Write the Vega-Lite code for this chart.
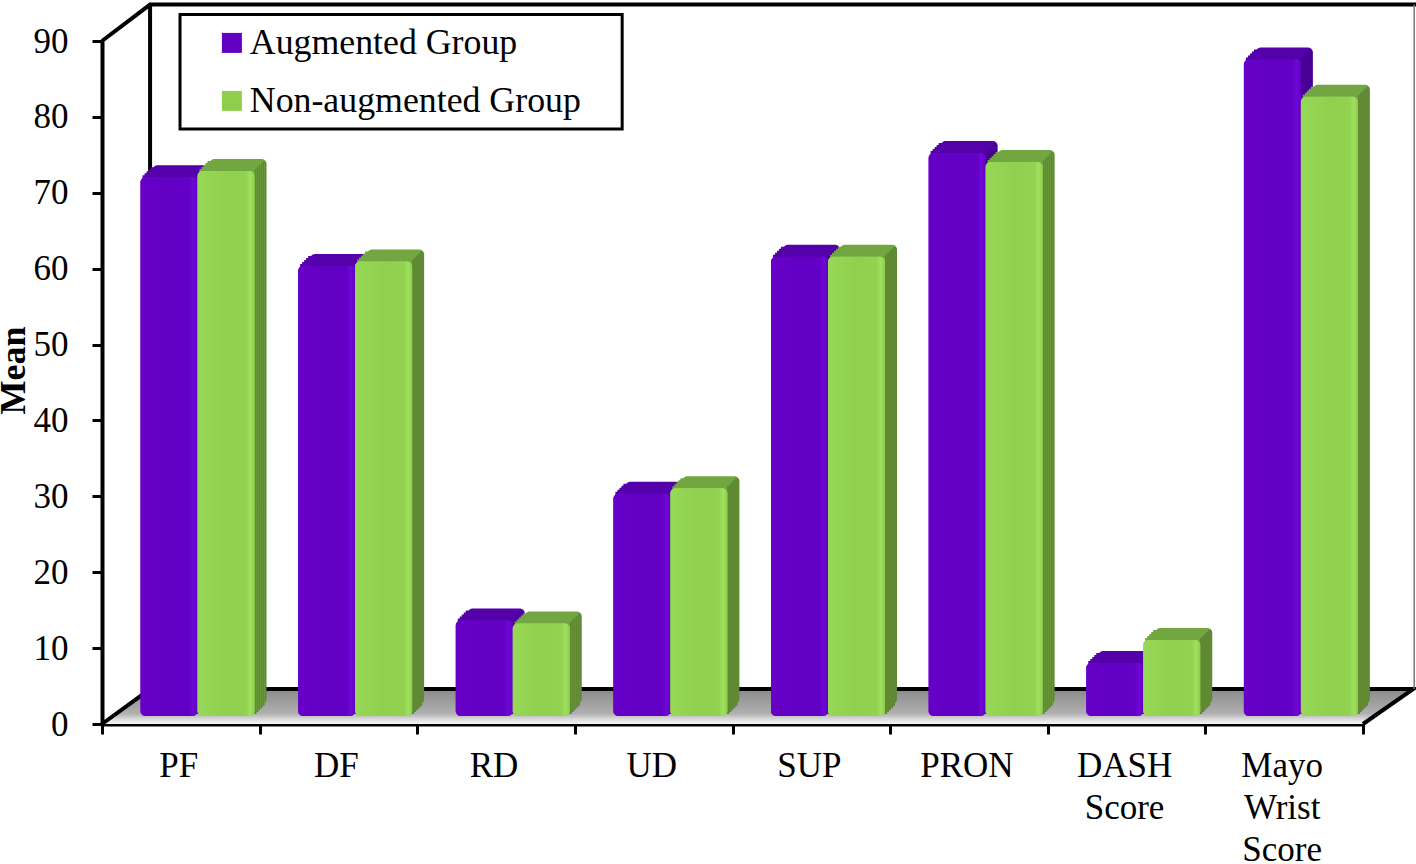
{
"$schema":"https://vega.github.io/schema/vega-lite/v6.json",
"autosize":"none","width":1261,"height":683,
"padding":{"left":102,"top":41,"right":53,"bottom":140},
"background":"white",
"config":{"view":{"stroke":null},"font":"Liberation Serif",
 "axisY":{"titleFontSize":36,"titleFontWeight":"bold","titleColor":"black","titleFont":"Liberation Serif","titleX":-70,"titleY":329,"labelFontSize":35,"labelColor":"black","labelFont":"Liberation Serif","labelPadding":24,"tickSize":10,"tickWidth":3,"tickColor":"black","domainWidth":4,"domainColor":"black","grid":false}},
"datasets":{
"bars":[
{"measure":"PF","group":"Augmented Group","mean":71},{"measure":"PF","group":"Non-augmented Group","mean":71.8},
{"measure":"DF","group":"Augmented Group","mean":59.3},{"measure":"DF","group":"Non-augmented Group","mean":59.9},
{"measure":"RD","group":"Augmented Group","mean":12.6},{"measure":"RD","group":"Non-augmented Group","mean":12.2},
{"measure":"UD","group":"Augmented Group","mean":29.3},{"measure":"UD","group":"Non-augmented Group","mean":30},
{"measure":"SUP","group":"Augmented Group","mean":60.5},{"measure":"SUP","group":"Non-augmented Group","mean":60.5},
{"measure":"PRON","group":"Augmented Group","mean":74.2},{"measure":"PRON","group":"Non-augmented Group","mean":73},
{"measure":"DASH Score","group":"Augmented Group","mean":7},{"measure":"DASH Score","group":"Non-augmented Group","mean":10},
{"measure":"Mayo Wrist Score","group":"Augmented Group","mean":86.5},{"measure":"Mayo Wrist Score","group":"Non-augmented Group","mean":81.6}
],
"floor":[{"u":0,"v":0,"v2":0},{"u":0.305,"v":4.6,"v2":0},{"u":8,"v":4.6,"v2":0},{"u":8.317,"v":4.6,"v2":4.6}],
"frame":[
{"part":"a","n":1,"u":0,"v":0},{"part":"a","n":2,"u":0.305,"v":4.6},{"part":"a","n":3,"u":8.317,"v":4.6},{"part":"a","n":4,"u":8,"v":0},
{"part":"b","n":1,"u":0,"v":90},{"part":"b","n":2,"u":0.305,"v":94.8},{"part":"b","n":3,"u":8.34,"v":94.8},
{"part":"c","n":1,"u":0.305,"v":94.8},{"part":"c","n":2,"u":0.305,"v":4.6}
],
"edge":[{"n":1,"u":8.325,"v":94.8},{"n":2,"u":8.325,"v":4.6}],
"box":[{"u":0.495,"u2":3.3,"v":93.5,"v2":78.4}]
},
"resolve":{"scale":{"x":"independent"}},
"layer":[
{"data":{"name":"floor"},
 "mark":{"type":"area","fill":{"gradient":"linear","x1":0,"y1":0,"x2":0,"y2":1,"stops":[{"offset":0,"color":"#8a8a8a"},{"offset":0.7,"color":"#b0b0b0"},{"offset":0.85,"color":"#d8d8d8"},{"offset":1,"color":"#f8f8f8"}]}},
 "encoding":{"x":{"field":"u","type":"quantitative","scale":{"domain":[0,8],"nice":false,"zero":false},"axis":null},
  "y":{"field":"v","type":"quantitative","stack":null,"scale":{"domain":[0,90],"nice":false},"axis":{"values":[0,10,20,30,40,50,60,70,80,90],"title":"Mean"}},
  "y2":{"field":"v2"}}},
{"data":{"name":"frame"},
 "mark":{"type":"line","stroke":"black","strokeWidth":4},
 "encoding":{"x":{"field":"u","type":"quantitative","scale":{"domain":[0,8],"nice":false,"zero":false},"axis":null},
  "y":{"field":"v","type":"quantitative","stack":null,"axis":{"values":[0,10,20,30,40,50,60,70,80,90],"title":"Mean"}},"detail":{"field":"part"},"order":{"field":"n"}}},
{"data":{"name":"edge"},
 "mark":{"type":"line","stroke":"#777777","strokeWidth":1.5},
 "encoding":{"x":{"field":"u","type":"quantitative","scale":{"domain":[0,8],"nice":false,"zero":false},"axis":null},
  "y":{"field":"v","type":"quantitative","stack":null,"axis":{"values":[0,10,20,30,40,50,60,70,80,90],"title":"Mean"}},"order":{"field":"n"}}},
{"data":{"name":"box"},
 "mark":{"type":"rect","fill":"white","stroke":"black","strokeWidth":3},
 "encoding":{"x":{"field":"u","type":"quantitative","scale":{"domain":[0,8],"nice":false,"zero":false},"axis":null},"x2":{"field":"u2"},
  "y":{"field":"v","type":"quantitative","axis":{"values":[0,10,20,30,40,50,60,70,80,90],"title":"Mean"}},"y2":{"field":"v2"}}},
{"data":{"name":"bars"},
 "encoding":{
  "x":{"field":"measure","type":"nominal","sort":["PF","DF","RD","UD","SUP","PRON","DASH Score","Mayo Wrist Score"],
   "scale":{"paddingInner":0,"paddingOuter":0},
   "axis":{"title":null,"labelAngle":0,"labelExpr":"split(datum.label,' ')","labelFontSize":35,"labelColor":"black","labelFont":"Liberation Serif","labelLineHeight":42,"labelPadding":14,"labelOffset":-2.5,"labelLimit":300,"tickSize":10,"tickWidth":3,"tickColor":"black","tickBand":"extent","domainWidth":4,"domainColor":"black"}},
  "y":{"field":"mean","type":"quantitative","stack":null,"axis":{"values":[0,10,20,30,40,50,60,70,80,90],"title":"Mean"}},
  "y2":{"datum":0}
 },
 "layer":[
 {"transform":[{"filter":"datum.group=='Augmented Group'"}],"mark":{"type":"bar","width":57,"xOffset":0.2,"yOffset":-20,"y2Offset":-20,"cornerRadius":5,"fill":{"gradient":"linear","x1":0,"y1":0,"x2":1,"y2":0,"stops":[{"offset":0,"color":"#5400ab"},{"offset":0.965,"color":"#5400ab"},{"offset":0.965,"color":"#480094"},{"offset":1,"color":"#480094"}]}}},
 {"transform":[{"filter":"datum.group=='Augmented Group'"}],"mark":{"type":"bar","width":57,"xOffset":-1.8,"yOffset":-18,"y2Offset":-18,"fill":{"gradient":"linear","x1":0,"y1":0,"x2":1,"y2":0,"stops":[{"offset":0,"color":"#5400ab"},{"offset":0.965,"color":"#5400ab"},{"offset":0.965,"color":"#480094"},{"offset":1,"color":"#480094"}]}}},
 {"transform":[{"filter":"datum.group=='Augmented Group'"}],"mark":{"type":"bar","width":57,"xOffset":-3.8,"yOffset":-16,"y2Offset":-16,"fill":{"gradient":"linear","x1":0,"y1":0,"x2":1,"y2":0,"stops":[{"offset":0,"color":"#5400ab"},{"offset":0.965,"color":"#5400ab"},{"offset":0.965,"color":"#480094"},{"offset":1,"color":"#480094"}]}}},
 {"transform":[{"filter":"datum.group=='Augmented Group'"}],"mark":{"type":"bar","width":57,"xOffset":-5.8,"yOffset":-14,"y2Offset":-14,"fill":{"gradient":"linear","x1":0,"y1":0,"x2":1,"y2":0,"stops":[{"offset":0,"color":"#5400ab"},{"offset":0.965,"color":"#5400ab"},{"offset":0.965,"color":"#480094"},{"offset":1,"color":"#480094"}]}}},
 {"transform":[{"filter":"datum.group=='Augmented Group'"}],"mark":{"type":"bar","width":57,"xOffset":-7.8,"yOffset":-12,"y2Offset":-12,"fill":{"gradient":"linear","x1":0,"y1":0,"x2":1,"y2":0,"stops":[{"offset":0,"color":"#5400ab"},{"offset":0.965,"color":"#5400ab"},{"offset":0.965,"color":"#480094"},{"offset":1,"color":"#480094"}]}}},
 {"transform":[{"filter":"datum.group=='Augmented Group'"}],"mark":{"type":"bar","width":57,"xOffset":-9.8,"yOffset":-10,"y2Offset":-10,"fill":{"gradient":"linear","x1":0,"y1":0,"x2":1,"y2":0,"stops":[{"offset":0,"color":"#5400ab"},{"offset":0.965,"color":"#5400ab"},{"offset":0.965,"color":"#480094"},{"offset":1,"color":"#480094"}]}}},
 {"transform":[{"filter":"datum.group=='Augmented Group'"}],"mark":{"type":"bar","width":57,"xOffset":-11.8,"yOffset":-8,"y2Offset":-8,"cornerRadius":5},
  "encoding":{"fill":{"field":"group","type":"nominal","scale":{"domain":["Augmented Group","Non-augmented Group"],"range":["#6200c4","#8fcf4d"]},
  "legend":{"title":null,"orient":"none","legendX":112,"legendY":-16,"padding":0,"labelFontSize":35.8,"labelColor":"black","labelFont":"Liberation Serif","symbolType":"square","symbolSize":400,"symbolStrokeWidth":0,"labelOffset":0,"rowPadding":21,"labelLimit":400}}}},
 {"transform":[{"filter":"datum.group=='Augmented Group'"}],"mark":{"type":"bar","width":57,"xOffset":-11.8,"yOffset":-8,"y2Offset":-8,"cornerRadius":5,"fill":{"gradient":"linear","x1":0,"y1":0,"x2":1,"y2":0,"stops":[{"offset":0,"color":"#6800c8"},{"offset":0.5,"color":"#6200c4"},{"offset":0.85,"color":"#6400c6"},{"offset":0.93,"color":"#6e08d8"},{"offset":1,"color":"#6400c0"}]}}},
 {"transform":[{"filter":"datum.group=='Non-augmented Group'"}],"mark":{"type":"bar","width":57,"xOffset":57.2,"yOffset":-20,"y2Offset":-20,"cornerRadius":5,"fill":{"gradient":"linear","x1":0,"y1":0,"x2":1,"y2":0,"stops":[{"offset":0,"color":"#72a640"},{"offset":0.965,"color":"#72a640"},{"offset":0.965,"color":"#5f8a33"},{"offset":1,"color":"#5f8a33"}]}}},
 {"transform":[{"filter":"datum.group=='Non-augmented Group'"}],"mark":{"type":"bar","width":57,"xOffset":55.2,"yOffset":-18,"y2Offset":-18,"fill":{"gradient":"linear","x1":0,"y1":0,"x2":1,"y2":0,"stops":[{"offset":0,"color":"#72a640"},{"offset":0.965,"color":"#72a640"},{"offset":0.965,"color":"#5f8a33"},{"offset":1,"color":"#5f8a33"}]}}},
 {"transform":[{"filter":"datum.group=='Non-augmented Group'"}],"mark":{"type":"bar","width":57,"xOffset":53.2,"yOffset":-16,"y2Offset":-16,"fill":{"gradient":"linear","x1":0,"y1":0,"x2":1,"y2":0,"stops":[{"offset":0,"color":"#72a640"},{"offset":0.965,"color":"#72a640"},{"offset":0.965,"color":"#5f8a33"},{"offset":1,"color":"#5f8a33"}]}}},
 {"transform":[{"filter":"datum.group=='Non-augmented Group'"}],"mark":{"type":"bar","width":57,"xOffset":51.2,"yOffset":-14,"y2Offset":-14,"fill":{"gradient":"linear","x1":0,"y1":0,"x2":1,"y2":0,"stops":[{"offset":0,"color":"#72a640"},{"offset":0.965,"color":"#72a640"},{"offset":0.965,"color":"#5f8a33"},{"offset":1,"color":"#5f8a33"}]}}},
 {"transform":[{"filter":"datum.group=='Non-augmented Group'"}],"mark":{"type":"bar","width":57,"xOffset":49.2,"yOffset":-12,"y2Offset":-12,"fill":{"gradient":"linear","x1":0,"y1":0,"x2":1,"y2":0,"stops":[{"offset":0,"color":"#72a640"},{"offset":0.965,"color":"#72a640"},{"offset":0.965,"color":"#5f8a33"},{"offset":1,"color":"#5f8a33"}]}}},
 {"transform":[{"filter":"datum.group=='Non-augmented Group'"}],"mark":{"type":"bar","width":57,"xOffset":47.2,"yOffset":-10,"y2Offset":-10,"fill":{"gradient":"linear","x1":0,"y1":0,"x2":1,"y2":0,"stops":[{"offset":0,"color":"#72a640"},{"offset":0.965,"color":"#72a640"},{"offset":0.965,"color":"#5f8a33"},{"offset":1,"color":"#5f8a33"}]}}},
 {"transform":[{"filter":"datum.group=='Non-augmented Group'"}],"mark":{"type":"bar","width":57,"xOffset":45.2,"yOffset":-8,"y2Offset":-8,"cornerRadius":5},
  "encoding":{"fill":{"field":"group","type":"nominal"}}},
 {"transform":[{"filter":"datum.group=='Non-augmented Group'"}],"mark":{"type":"bar","width":57,"xOffset":45.2,"yOffset":-8,"y2Offset":-8,"cornerRadius":5,"fill":{"gradient":"linear","x1":0,"y1":0,"x2":1,"y2":0,"stops":[{"offset":0,"color":"#98d858"},{"offset":0.5,"color":"#90d04e"},{"offset":0.85,"color":"#92d250"},{"offset":0.93,"color":"#a0e060"},{"offset":1,"color":"#8ecb4c"}]}}}
 ]}
]}
